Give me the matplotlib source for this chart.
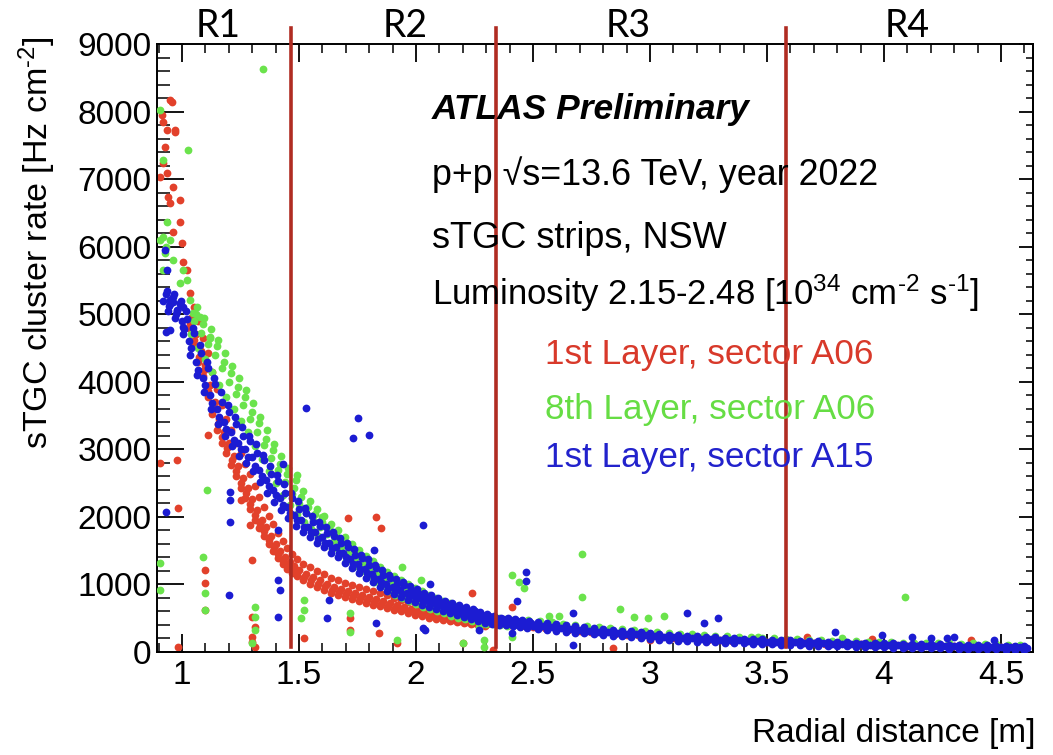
import matplotlib
matplotlib.use("Agg")
import matplotlib.pyplot as plt
from matplotlib.ticker import MultipleLocator

plt.rcParams['font.family'] = ['Liberation Sans', 'DejaVu Sans']
plt.rcParams['mathtext.fontset'] = 'custom'
plt.rcParams['mathtext.rm'] = 'Liberation Sans'
plt.rcParams['mathtext.it'] = 'Liberation Sans:italic'

# ---------------- data ----------------
# Blue: 1st Layer, sector A15  (rows of the dense band + isolated points)
blue_x1 = [0.92, 0.95, 0.98, 1.00, 1.03, 1.06, 1.09, 1.12, 1.15, 1.18, 1.21, 1.24, 1.27, 1.30, 1.33, 1.36,
           1.39, 1.42, 1.45, 1.48, 1.51, 1.54, 1.57, 1.60, 1.63, 1.66, 1.69, 1.72, 1.75, 1.78, 1.81, 1.84,
           1.87, 1.90, 1.93, 1.96, 1.99, 2.02, 2.05, 2.08, 2.11, 2.14, 2.17, 2.20, 2.23, 2.26, 2.29, 2.32,
           2.35, 2.38, 2.41, 2.44, 2.47, 2.50, 2.54, 2.58, 2.62, 2.66, 2.70, 2.74, 2.78, 2.82, 2.86, 2.90,
           2.94, 2.98, 3.02, 3.06, 3.10, 3.14, 3.18, 3.22, 3.26, 3.30, 3.34, 3.38, 3.42, 3.46, 3.50, 3.54,
           3.58, 3.62, 3.66, 3.70, 3.74, 3.78, 3.82, 3.86, 3.90, 3.94, 3.98, 4.02, 4.06, 4.10, 4.14, 4.18,
           4.22, 4.26, 4.30, 4.34, 4.38, 4.42, 4.46, 4.50, 4.54, 4.58, 4.61]
blue_y1 = [5200, 5150, 5050, 4900, 4600, 4300, 4050, 3800, 3600, 3400, 3250, 3100, 3000, 2880, 2700, 2550,
           2400, 2280, 2150, 2030, 1950, 1850, 1770, 1700, 1620, 1560, 1470, 1380, 1300, 1230, 1160, 1080,
           1010, 960, 920, 870, 840, 800, 760, 720, 690, 650, 620, 590, 560, 520, 490, 470,
           455, 440, 430, 420, 400, 390, 378, 365, 350, 338, 325, 312, 302, 292, 282, 270,
           260, 248, 238, 228, 218, 212, 204, 196, 190, 183, 177, 172, 166, 160, 155, 150,
           146, 142, 138, 133, 128, 125, 121, 117, 113, 109, 105, 102, 99, 96, 94, 91,
           88, 86, 84, 81, 79, 77, 75, 72, 70, 68, 66]
blue_x2 = [0.935, 0.965, 0.995, 1.015, 1.045, 1.075, 1.105, 1.135, 1.165, 1.195, 1.225, 1.255, 1.285, 1.315,
           1.345, 1.375, 1.405, 1.435, 1.465, 1.495, 1.525, 1.555, 1.585, 1.615, 1.645, 1.675, 1.705, 1.735,
           1.765, 1.795, 1.825, 1.855, 1.885, 1.915, 1.945, 1.975, 2.005, 2.035, 2.065, 2.095, 2.125, 2.155,
           2.185, 2.215, 2.245, 2.275, 2.305, 2.335, 2.365, 2.395, 2.425, 2.455, 2.485, 2.52, 2.56, 2.60,
           2.64, 2.68, 2.72, 2.76, 2.80, 2.84, 2.88, 2.92, 2.96, 3.00, 3.04, 3.08, 3.12, 3.16, 3.20, 3.24,
           3.28, 3.32, 3.36, 3.40, 3.44, 3.48, 3.52, 3.56, 3.60, 3.64, 3.68, 3.72, 3.76, 3.80, 3.84, 3.88,
           3.92, 3.96, 4.00, 4.04, 4.08, 4.12, 4.16, 4.20, 4.24, 4.28, 4.32, 4.36, 4.40, 4.44, 4.48, 4.52,
           4.56, 4.60]
blue_y2 = [5350, 5300, 5200, 5050, 4800, 4550, 4300, 4050, 3850, 3650, 3480, 3330, 3200, 3080,
           2920, 2750, 2620, 2480, 2350, 2230, 2130, 2020, 1930, 1850, 1770, 1690, 1610, 1520,
           1440, 1370, 1290, 1210, 1140, 1080, 1030, 980, 930, 880, 840, 800, 760, 720,
           690, 660, 630, 590, 560, 530, 510, 500, 490, 475, 460, 440, 425, 410,
           395, 380, 365, 350, 340, 330, 315, 305, 290, 280, 270, 258, 250, 240, 232, 225,
           218, 210, 205, 198, 192, 188, 182, 178, 172, 168, 162, 158, 155, 150, 146, 140,
           136, 132, 130, 126, 122, 120, 117, 114, 112, 110, 106, 103, 100, 98, 95, 92,
           90, 88]
blue_x3 = [0.94, 0.97, 1.005, 1.035, 1.065, 1.095, 1.125, 1.155, 1.185, 1.215, 1.245, 1.275, 1.305, 1.335,
           1.365, 1.395, 1.425, 1.455, 1.485, 1.515, 1.545, 1.575, 1.605, 1.635, 1.665, 1.695, 1.725, 1.755,
           1.785, 1.815, 1.845, 1.875, 1.905, 1.935, 1.965, 1.995, 2.025, 2.055, 2.085, 2.115, 2.145, 2.175,
           2.205, 2.235, 2.265, 2.295, 2.325, 2.355, 2.385, 2.415, 2.445, 2.475, 2.52, 2.56, 2.60, 2.64,
           2.68, 2.72, 2.76, 2.80, 2.84, 2.88, 2.92, 2.96, 3.00, 3.04, 3.08, 3.12, 3.16, 3.20, 3.24, 3.28,
           3.32, 3.36, 3.40, 3.44, 3.48, 3.52, 3.56, 3.60, 3.64, 3.68, 3.72, 3.76, 3.80, 3.84, 3.88, 3.92,
           3.96, 4.00, 4.04, 4.08, 4.12, 4.16, 4.20, 4.24, 4.28, 4.32, 4.36, 4.40, 4.44, 4.48, 4.52, 4.56,
           4.60]
blue_y3 = [5050, 4950, 4700, 4400, 4100, 3850, 3600, 3380, 3200, 3050, 2900, 2800, 2680, 2520,
           2360, 2220, 2100, 1980, 1870, 1780, 1700, 1620, 1550, 1470, 1400, 1320, 1240, 1170,
           1100, 1030, 960, 900, 860, 810, 770, 740, 700, 670, 640, 610, 580, 550,
           520, 490, 460, 430, 415, 405, 395, 385, 370, 355, 340, 325, 310, 298,
           285, 275, 262, 252, 240, 230, 218, 205, 195, 185, 178, 170, 162, 155, 150, 142,
           138, 132, 128, 122, 118, 112, 110, 105, 100, 96, 92, 88, 85, 82, 78, 75,
           72, 70, 66, 64, 60, 58, 55, 52, 50, 48, 45, 42, 40, 38, 35, 32,
           30]
blue_x4 = [0.93, 0.96, 0.99, 1.02, 1.05, 1.08, 1.11, 1.14, 1.17, 1.20, 1.23, 1.26, 1.29, 1.32, 1.35, 1.38,
           1.41, 1.44, 1.47, 1.50, 1.53, 1.56, 1.59, 1.62, 1.65, 1.68, 1.71, 1.74, 1.77, 1.80, 1.83, 1.86,
           1.89, 1.92, 1.95, 1.98, 2.01, 2.04, 2.07, 2.10, 2.13, 2.16, 2.19, 2.22, 2.25, 2.28, 2.31, 2.34,
           2.37, 2.40, 2.43, 2.46, 2.49]
blue_y4 = [5300, 5180, 5150, 4930, 4720, 4420, 4200, 3960, 3700, 3560, 3380, 3190, 3120, 2950, 2840, 2640,
           2530, 2360, 2280, 2110, 2060, 1920, 1860, 1760, 1710, 1610, 1560, 1440, 1390, 1290, 1240, 1140,
           1090, 1010, 990, 920, 880, 830, 800, 750, 730, 680, 660, 620, 600, 550, 530, 500,
           485, 470, 465, 445, 430]
blue_x5 = [0.945, 0.975, 1.01, 1.04, 1.07, 1.10, 1.13, 1.16, 1.19, 1.22, 1.25, 1.28, 1.31, 1.34, 1.37, 1.40,
           1.43, 1.46, 1.49, 1.52, 1.55, 1.58, 1.61, 1.64, 1.67, 1.70, 1.73, 1.76, 1.79, 1.82, 1.85, 1.88,
           1.91, 1.94, 1.97, 2.00, 2.03, 2.06, 2.09, 2.12, 2.15, 2.18, 2.21, 2.24, 2.27, 2.30, 2.33, 2.36,
           2.39, 2.42, 2.45, 2.48]
blue_y5 = [5120, 5000, 4780, 4500, 4180, 3950, 3680, 3480, 3300, 3140, 3000, 2880, 2760, 2600, 2450, 2320,
           2180, 2060, 1960, 1850, 1780, 1680, 1620, 1540, 1470, 1400, 1310, 1230, 1170, 1090, 1030, 950,
           910, 860, 820, 780, 750, 710, 680, 650, 610, 590, 550, 520, 490, 460, 445, 430,
           418, 405, 395, 380]
blue_x6 = [2.52, 2.56, 2.60, 2.64, 2.68, 2.72, 2.76, 2.80, 2.84, 2.88, 2.92, 2.96, 3.00, 3.04, 3.08, 3.12,
           3.16, 3.20, 3.24, 3.28, 3.32, 3.36, 3.40, 3.44, 3.48, 3.52, 3.56, 3.60, 3.64, 3.68, 3.72, 3.76,
           3.80, 3.84, 3.88, 3.92, 3.96, 4.00, 4.04, 4.08, 4.12, 4.16, 4.20, 4.24, 4.28, 4.32, 4.36, 4.40,
           4.44, 4.48, 4.52, 4.56, 4.60]
blue_y6 = [400, 350, 380, 320, 345, 300, 322, 275, 300, 255, 278, 232, 250, 205, 230, 190,
           215, 175, 200, 160, 185, 150, 175, 140, 165, 130, 155, 122, 148, 112, 140, 105,
           130, 98, 122, 90, 115, 85, 110, 78, 102, 72, 98, 68, 92, 62, 88, 58,
           82, 52, 78, 50, 72]
blue_xo = [0.927, 0.935, 0.95, 0.96, 0.99, 0.98, 1.004, 0.95, 1.004, 0.93, 0.93, 1.53, 1.75, 1.73, 1.80,
           2.03, 1.205, 1.205, 1.205, 1.20, 1.41, 1.42, 1.41, 1.43, 1.41, 1.62, 1.63, 1.82, 1.83, 2.03,
           2.06, 2.47, 2.47, 2.43, 2.04, 2.27, 2.67, 2.41, 2.67, 3.16, 3.29, 3.23, 3.79, 3.99, 4.12,
           4.20, 4.27, 4.30, 4.47]
blue_yo = [5950, 5650, 5210, 5255, 5165, 5060, 5110, 4770, 4810, 4740, 2070, 3610, 3460, 3170, 3210,
           1880, 2370, 2250, 1920, 844, 1066, 918, 518, 2780, 1800, 503, 770, 1510, 430, 355,
           1000, 1184, 1050, 760, 326, 326, 577, 281, 104, 577, 503, 430, 296, 252, 222,
           207, 207, 222, 178]

# Green: 8th Layer, sector A06
green_x1 = [1.05, 1.08, 1.11, 1.14, 1.17, 1.20, 1.23, 1.26, 1.29, 1.32, 1.35, 1.38, 1.41, 1.44, 1.47, 1.50,
            1.53, 1.56, 1.59, 1.62, 1.65, 1.68, 1.71, 1.74, 1.77, 1.80, 1.83, 1.86, 1.89, 1.92, 1.95, 1.98,
            2.01, 2.04, 2.07, 2.10, 2.13, 2.16, 2.19, 2.22, 2.25, 2.28, 2.31, 2.34, 2.37, 2.40, 2.43]
green_y1 = [4900, 4720, 4560, 4400, 4200, 4000, 3820, 3650, 3450, 3260, 3060, 2870, 2700, 2520, 2340, 2190,
            2060, 1950, 1850, 1750, 1650, 1560, 1470, 1390, 1300, 1220, 1150, 1080, 1010, 950, 890, 840,
            790, 740, 700, 660, 620, 590, 560, 530, 500, 470, 450, 440, 430, 420, 410]
green_x2 = [1.065, 1.095, 1.125, 1.155, 1.185, 1.215, 1.245, 1.275, 1.305, 1.335, 1.365, 1.395, 1.425, 1.455,
            1.485, 1.515, 1.545, 1.575, 1.605, 1.635, 1.665, 1.695, 1.725, 1.755, 1.785, 1.815, 1.845, 1.875,
            1.905, 1.935, 1.965, 1.995, 2.025, 2.055, 2.085, 2.115, 2.145, 2.175, 2.205, 2.235, 2.265, 2.295,
            2.325, 2.355, 2.385, 2.415]
green_y2 = [5100, 4950, 4780, 4620, 4420, 4230, 4050, 3880, 3680, 3480, 3280, 3080, 2900, 2720,
            2540, 2380, 2240, 2120, 2010, 1900, 1800, 1700, 1600, 1510, 1420, 1340, 1260, 1190,
            1120, 1060, 1000, 950, 900, 850, 800, 760, 720, 680, 640, 610, 570, 540,
            515, 500, 490, 480]
green_x3 = [1.04, 1.07, 1.10, 1.13, 1.16, 1.19, 1.22, 1.25, 1.28, 1.31, 1.34, 1.37, 1.40, 1.43, 1.46, 1.49,
            1.52, 1.55, 1.58, 1.61, 1.64, 1.67, 1.70, 1.73, 1.76, 1.79, 1.82, 1.85, 1.88, 1.91, 1.94, 1.97,
            2.00, 2.03, 2.06, 2.09, 2.12, 2.15, 2.18, 2.21, 2.24, 2.27, 2.30, 2.33, 2.36, 2.39]
green_y3 = [4700, 4500, 4330, 4150, 3950, 3780, 3600, 3420, 3250, 3050, 2860, 2680, 2500, 2330, 2180, 2040,
            1920, 1820, 1720, 1620, 1520, 1430, 1340, 1260, 1180, 1110, 1040, 970, 910, 850, 800, 750,
            710, 670, 630, 600, 570, 540, 510, 490, 460, 440, 420, 410, 400, 390]
green_x4 = [2.48, 2.53, 2.58, 2.63, 2.68, 2.73, 2.78, 2.83, 2.88, 2.93, 2.98, 3.03, 3.08, 3.13, 3.18, 3.23,
            3.28, 3.33, 3.38, 3.43, 3.48, 3.53, 3.58, 3.63, 3.68, 3.73, 3.78, 3.83, 3.88, 3.93, 3.98, 4.03,
            4.08, 4.13, 4.18, 4.23, 4.28, 4.33, 4.38, 4.43, 4.48, 4.53, 4.58]
green_y4 = [480, 455, 440, 420, 400, 385, 370, 355, 340, 325, 310, 295, 280, 270, 260, 250,
            240, 232, 222, 215, 208, 200, 195, 188, 180, 175, 170, 165, 160, 155, 150, 145,
            140, 138, 135, 130, 128, 125, 120, 118, 115, 110, 108]
green_x5 = [1.058, 1.088, 1.118, 1.148, 1.178, 1.208, 1.238, 1.268, 1.298, 1.328, 1.358, 1.388, 1.418, 1.448,
            1.478, 1.508, 1.538, 1.568, 1.598, 1.628, 1.658, 1.688, 1.718, 1.748, 1.778, 1.808, 1.838, 1.868,
            1.898, 1.928, 1.958, 1.988, 2.018, 2.048, 2.078, 2.108, 2.138, 2.168, 2.198, 2.228, 2.258, 2.288,
            2.318, 2.348]
green_y5 = [5000, 4850, 4650, 4530, 4300, 4130, 3920, 3780, 3550, 3390, 3160, 2990, 2790, 2640,
            2430, 2300, 2140, 2050, 1920, 1840, 1720, 1650, 1530, 1460, 1350, 1290, 1200, 1140,
            1060, 1010, 940, 900, 840, 800, 750, 710, 670, 640, 600, 575, 535, 510,
            480, 470]
green_xo = [0.905, 0.92, 0.935, 0.92, 0.95, 0.927, 0.96, 0.92, 1.004, 1.02, 0.99, 1.034, 1.047, 1.077, 1.12,
            0.905, 0.93, 1.026, 1.346, 1.105, 1.09, 1.10, 1.10, 0.905, 0.905, 1.31, 1.31, 1.31, 1.30,
            1.49, 1.60, 1.52, 1.52, 1.51, 1.72, 1.72, 1.92, 1.94, 2.02, 2.20, 2.29, 2.29, 2.41, 2.46,
            2.41, 2.71, 2.44, 2.71, 2.87, 2.57, 2.61, 2.93, 2.99, 3.06, 2.27, 4.09, 3.46, 3.82, 4.38]
green_yo = [8020, 7280, 6365, 6140, 6100, 5900, 5800, 5650, 5650, 5500, 5460, 5210, 5020, 4960, 4660,
            6100, 6000, 7430, 8630, 2400, 1410, 873, 622, 1320, 920, 666, 518, 326, 133,
            2620, 2000, 770, 622, 503, 577, 296, 178, 1260, 1066, 133, 178, 74, 1140, 950,
            222, 1450, 1040, 814, 636, 533, 533, 518, 503, 533, 370, 814, 222, 207, 133]

# Red: 1st Layer, sector A06
red_x1 = [1.04, 1.06, 1.08, 1.10, 1.12, 1.14, 1.16, 1.18, 1.20, 1.22, 1.24, 1.26, 1.28, 1.30, 1.32, 1.34,
          1.36, 1.38, 1.40, 1.42, 1.44, 1.46, 1.48, 1.50, 1.53, 1.56, 1.59, 1.62, 1.65, 1.68, 1.71, 1.74,
          1.77, 1.80, 1.83, 1.86, 1.89, 1.92, 1.95, 1.98, 2.01, 2.04, 2.07, 2.10, 2.13, 2.16, 2.19, 2.22,
          2.25, 2.28, 2.31]
red_y1 = [4950, 4700, 4450, 4250, 3950, 3700, 3450, 3250, 3100, 2900, 2750, 2580, 2430, 2270, 2100, 1960,
          1850, 1720, 1600, 1500, 1400, 1330, 1270, 1220, 1160, 1110, 1060, 1010, 960, 930, 900, 870,
          840, 810, 780, 750, 720, 690, 665, 640, 615, 590, 565, 545, 525, 505, 490, 475,
          460, 450, 440]
red_x2 = [1.05, 1.07, 1.09, 1.11, 1.13, 1.15, 1.17, 1.19, 1.21, 1.23, 1.25, 1.27, 1.29, 1.31, 1.33, 1.35,
          1.37, 1.39, 1.41, 1.43, 1.45, 1.47, 1.49, 1.515, 1.545, 1.575, 1.605, 1.635, 1.665, 1.695, 1.725,
          1.755, 1.785, 1.815, 1.845, 1.875, 1.905, 1.935, 1.965, 1.995, 2.025, 2.055, 2.085, 2.115, 2.145,
          2.175, 2.205, 2.235, 2.265, 2.295]
red_y2 = [5100, 4900, 4650, 4420, 4150, 3900, 3650, 3450, 3280, 3100, 2940, 2780, 2630, 2460, 2300, 2150,
          2020, 1890, 1760, 1650, 1540, 1450, 1380, 1310, 1260, 1200, 1150, 1100, 1060, 1020, 990,
          960, 930, 900, 870, 840, 800, 770, 745, 720, 690, 660, 630, 605, 580,
          560, 545, 530, 515, 500]
red_x3 = [1.03, 1.05, 1.07, 1.09, 1.11, 1.13, 1.15, 1.17, 1.19, 1.21, 1.23, 1.25, 1.27, 1.29, 1.31, 1.33,
          1.35, 1.37, 1.39, 1.41, 1.43, 1.45, 1.47, 1.49, 1.515, 1.545, 1.575, 1.605, 1.635, 1.665, 1.695,
          1.725, 1.755, 1.785, 1.815, 1.845, 1.875, 1.905, 1.935, 1.965, 1.995, 2.025, 2.055, 2.085, 2.115,
          2.145, 2.175, 2.205, 2.235, 2.265, 2.295]
red_y3 = [4800, 4550, 4300, 4080, 3780, 3520, 3280, 3100, 2950, 2770, 2600, 2430, 2280, 2120, 1960, 1830,
          1720, 1600, 1490, 1390, 1300, 1230, 1170, 1120, 1060, 1010, 960, 920, 880, 850, 820,
          790, 760, 730, 700, 680, 650, 620, 600, 575, 555, 530, 510, 490, 470,
          455, 440, 425, 410, 400, 390]
red_x4 = [2.35, 2.40, 2.45, 2.50, 2.55, 2.60, 2.65, 2.70, 2.75, 2.80, 2.85, 2.90, 2.95, 3.00, 3.05, 3.10,
          3.15, 3.20, 3.25, 3.30, 3.35, 3.40, 3.45, 3.50, 3.55, 3.60, 3.65, 3.70, 3.75, 3.80, 3.85, 3.90,
          3.95, 4.00, 4.05, 4.10, 4.15, 4.20, 4.25, 4.30, 4.35, 4.40, 4.45, 4.50, 4.55]
red_y4 = [420, 400, 385, 370, 355, 340, 325, 310, 295, 285, 270, 258, 245, 235, 222, 212,
          202, 195, 185, 178, 170, 163, 156, 150, 144, 140, 135, 130, 125, 120, 116, 112,
          108, 104, 100, 96, 93, 90, 87, 84, 80, 78, 75, 72, 70]
red_x5 = [1.032, 1.052, 1.072, 1.092, 1.112, 1.132, 1.152, 1.172, 1.192, 1.212, 1.232, 1.252, 1.272, 1.292,
          1.312, 1.332, 1.352, 1.372, 1.392, 1.412, 1.432, 1.452, 1.472, 1.492, 1.522, 1.552, 1.582, 1.612,
          1.642, 1.672, 1.702, 1.732, 1.762, 1.792, 1.822, 1.852, 1.882, 1.912, 1.942, 1.972, 2.002, 2.032,
          2.062, 2.092, 2.122, 2.152, 2.182, 2.212, 2.242, 2.272, 2.302]
red_y5 = [4870, 4620, 4370, 4170, 3860, 3610, 3370, 3180, 3020, 2840, 2680, 2500, 2360, 2190,
          2030, 1900, 1790, 1660, 1550, 1450, 1350, 1280, 1220, 1170, 1110, 1060, 1010, 970,
          920, 890, 860, 830, 800, 770, 740, 715, 685, 655, 630, 610, 585, 560,
          540, 515, 500, 480, 465, 450, 435, 425, 415]
red_xo = [0.957, 0.915, 0.92, 0.935, 0.97, 0.927, 0.92, 0.935, 0.96, 0.94, 0.99, 0.95, 0.99, 0.96, 1.0,
          1.005, 1.02, 1.034, 0.906, 0.949, 0.97,
          0.906, 0.98, 0.983, 1.10, 1.10, 1.10, 1.11, 1.29, 1.30, 1.30, 1.31, 1.30, 1.30, 1.31, 1.25,
          1.52, 1.71, 1.83, 1.85, 1.72, 1.72, 1.84, 1.92, 0.983, 2.24, 2.41, 2.20, 2.84, 3.0, 2.33,
          3.67, 3.95, 4.37]
red_yo = [8140, 7950, 7850, 7730, 7730, 7475, 7240, 7090, 6880, 6735, 6690, 6645, 6365, 6215, 6050,
          5770, 5650, 5310, 7030, 8170, 7700,
          2800, 2840, 2130, 1214, 1020, 622, 3210, 1880, 1360, 518, 370, 222, 148, 74, 2250,
          207, 1980, 2000, 1840, 503, 326, 281, 133, 74, 873, 666, 133, 59, 178, 30,
          222, 192, 178]

region_edges = [1.466, 2.342, 3.581]
region_names = ['R1', 'R2', 'R3', 'R4']
region_label_x = [1.154, 1.953, 2.906, 4.098]

xlim = (0.893, 4.637)
ylim = (0, 9000)

# ---------------- figure ----------------
W, H = 1053, 755
fig = plt.figure(figsize=(W / 100, H / 100), dpi=100)
ax = fig.add_axes([157 / W, 1 - 652 / H, (1033 - 157) / W, (652 - 44) / H])

RED = '#e2412b'
GREEN = '#6be34c'
BLUE = '#1c1cd2'
ms = 5.6

red_rows = [(red_x1, red_y1), (red_x2, red_y2), (red_x3, red_y3), (red_x4, red_y4), (red_x5, red_y5),
            (red_xo, red_yo)]
green_rows = [(green_x1, green_y1), (green_x2, green_y2), (green_x3, green_y3), (green_x4, green_y4),
              (green_x5, green_y5), (green_xo, green_yo)]
blue_rows = [(blue_x1, blue_y1), (blue_x2, blue_y2), (blue_x3, blue_y3), (blue_x4, blue_y4),
             (blue_x5, blue_y5), (blue_x6, blue_y6), (blue_xo, blue_yo)]
for xs, ys in red_rows:
    ax.plot(xs, ys, 'o', ms=ms, color=RED, mec='none', zorder=2)
for xs, ys in green_rows:
    ax.plot(xs, ys, 'o', ms=ms, color=GREEN, mec='none', zorder=3)
for xs, ys in blue_rows:
    ax.plot(xs, ys, 'o', ms=ms, color=BLUE, mec='none', zorder=4)

ax.set_xlim(*xlim)
ax.set_ylim(*ylim)

LINE_RED = '#b02c22'
for xe in region_edges:
    ax.plot([xe, xe], [74, 9236], color=LINE_RED, lw=2.6, clip_on=False, zorder=6)
for name, xl in zip(region_names, region_label_x):
    ax.text(xl, 9262, name, ha='center', va='center', fontsize=27, family=['Lato', 'DejaVu Sans'],
            color='black', clip_on=False)

# axes styling (ROOT-like)
for s in ax.spines.values():
    s.set_linewidth(1.4)
ax.xaxis.set_major_locator(MultipleLocator(0.5))
ax.xaxis.set_minor_locator(MultipleLocator(0.1))
ax.yaxis.set_major_locator(MultipleLocator(1000))
ax.yaxis.set_minor_locator(MultipleLocator(200))
ax.tick_params(axis='x', which='major', direction='in', length=13, width=1.3, top=True,
               labelsize=24, pad=6)
ax.tick_params(axis='x', which='minor', direction='in', length=6.5, width=1.1, top=True)
ax.tick_params(axis='y', which='major', direction='in', length=19.5, width=1.3, labelsize=24, pad=4)
ax.tick_params(axis='y', which='minor', direction='in', length=9.5, width=1.1)
ax.set_xticks([1, 1.5, 2, 2.5, 3, 3.5, 4, 4.5])
ax.set_xticklabels(['1', '1.5', '2', '2.5', '3', '3.5', '4', '4.5'])

sec = ax.secondary_yaxis('right')
sec.yaxis.set_major_locator(MultipleLocator(1000))
sec.yaxis.set_minor_locator(MultipleLocator(200))
sec.tick_params(which='major', direction='in', length=10, width=1.3, labelright=False)
sec.tick_params(which='minor', direction='in', length=5, width=1.1)
sec.spines['right'].set_linewidth(1.4)

# axis titles
fig.text(1035 / W, 1 - 742 / H, 'Radial distance [m]', ha='right', va='baseline', fontsize=24)
fig.text(37 / W, 1 - 36 / H, 'sTGC cluster rate [Hz cm$^{\u2010 2}$]', rotation=90, ha='center', va='top',
         fontsize=24.5)

# annotation block
fig.text(432 / W, 1 - 110 / H, 'ATLAS Preliminary', ha='left', va='center', fontsize=25.5,
         fontweight='bold', fontstyle='italic')
fig.text(432 / W, 1 - 175 / H, 'p+p \u221as=13.6 TeV, year 2022', ha='left', va='center', fontsize=25.8)
fig.text(432 / W, 1 - 238 / H, 'sTGC strips, NSW', ha='left', va='center', fontsize=26)
fig.text(432 / W, 1 - 305 / H, 'Luminosity 2.15-2.48 [10$^{34}$ cm$^{\u2010 2}$ s$^{\u2010 1}$]', ha='left',
         va='baseline', fontsize=25)
leg_labels = ['1st Layer, sector A06', '8th Layer, sector A06', '1st Layer, sector A15']
leg_colors = ['#d8392a', '#66dd44', '#2222cc']
leg_y = [355, 410, 458]
for lab, col, yy in zip(leg_labels, leg_colors, leg_y):
    fig.text(545 / W, 1 - yy / H, lab, ha='left', va='center', fontsize=25.3, color=col)

fig.savefig('out.png', dpi=100, facecolor='white')
